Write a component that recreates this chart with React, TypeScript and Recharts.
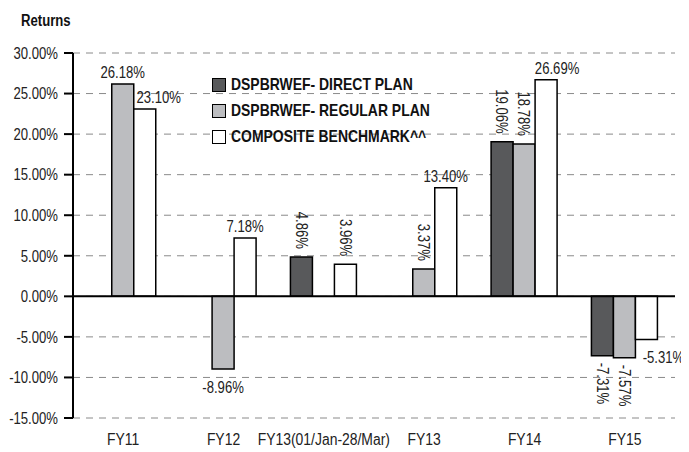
import React from "react";
import { BarChart, Bar, XAxis, YAxis, CartesianGrid, ReferenceLine, Legend, LabelList } from "recharts";

// no narrow font installed, so text is squeezed horizontally to look like Arial Narrow
const FONT = "'Liberation Sans', Arial, sans-serif";
const NARROW = 0.82;

const categories = ["FY11", "FY12", "FY13(01/Jan-28/Mar)", "FY13", "FY14", "FY15"];
const directPlan = [null, null, 4.86, null, 19.06, -7.31];
const regularPlan = [26.18, -8.96, null, 3.37, 18.78, -7.57];
const benchmark = [23.1, 7.18, 3.96, 13.4, 26.69, -5.31];
const yTicks = [-15, -10, -5, 0, 5, 10, 15, 20, 25, 30];

const series = [
  { key: "direct", name: "DSPBRWEF- DIRECT PLAN", fill: "#58595b", values: directPlan },
  { key: "regular", name: "DSPBRWEF- REGULAR PLAN", fill: "#bcbdc0", values: regularPlan },
  { key: "benchmark", name: "COMPOSITE BENCHMARK^^", fill: "#ffffff", values: benchmark },
];

// how each value label is drawn: h = horizontal, v = rotated
const labelMode: Record<string, string[]> = {
  direct: ["h", "h", "v", "h", "v", "v"],
  regular: ["h", "h", "h", "v", "v", "v"],
  benchmark: ["h", "h", "v", "h", "h", "h"],
};
const labelDx: Record<string, number[]> = {
  direct: [0, 0, 0, 0, 0, 0],
  regular: [0, 0, 0, 0, 0, 0],
  benchmark: [14, 0, 0, 0, 11, 17],
};

const data = categories.map((name, i) => ({
  name,
  direct: directPlan[i],
  regular: regularPlan[i],
  benchmark: benchmark[i],
}));

const fmt = (v: number) => v.toFixed(2) + "%";

const txt = { fontFamily: FONT, fontSize: 16, fill: "#222" };

function makeLabel(key: string, values: (number | null)[]) {
  return (props: any) => {
    const { x, y, width, height, value } = props;
    if (value == null) return null;
    const i = values.indexOf(value);
    const top = Math.min(y, y + height);
    const bottom = Math.max(y, y + height);
    const cx = x + width / 2;
    const mode = labelMode[key][i];
    const dx = labelDx[key][i] || 0;
    if (mode === "v") {
      const pos = value >= 0 ? top - 8 : bottom + 7;
      return (
        <g transform={`translate(${cx},${pos}) rotate(90) scale(${NARROW},1)`}>
          <text {...txt} x={0} y={0} textAnchor={value >= 0 ? "end" : "start"} dy="0.36em">
            {fmt(value)}
          </text>
        </g>
      );
    }
    const ty = value >= 0 ? top - 6 : bottom + 24;
    return (
      <g transform={`translate(${cx + dx},${ty}) scale(${NARROW},1)`}>
        <text {...txt} x={0} y={0} textAnchor="middle">
          {fmt(value)}
        </text>
      </g>
    );
  };
}

function YTick(props: any) {
  const { x, y, payload } = props;
  return (
    <g transform={`translate(${x},${y}) scale(${NARROW},1)`}>
      <text {...txt} x={0} y={0} textAnchor="end" dy="0.36em">
        {fmt(payload.value)}
      </text>
    </g>
  );
}

function XTick(props: any) {
  const { x, y, payload } = props;
  return (
    <g transform={`translate(${x},${y}) scale(0.87,1)`}>
      <text {...txt} x={0} y={0} textAnchor="middle" dy="0.71em">
        {payload.value}
      </text>
    </g>
  );
}

function LegendBox() {
  return (
    <div style={{ fontFamily: FONT, fontWeight: 700, fontSize: 17, color: "#111" }}>
      {series.map((s) => (
        <div key={s.key} style={{ display: "flex", alignItems: "center", height: 26, whiteSpace: "nowrap" }}>
          <span style={{ width: 12, height: 12, border: "1.5px solid #000", background: s.fill, marginRight: 5, flex: "none" }} />
          <span style={{ display: "inline-block", transform: `scaleX(${NARROW})`, transformOrigin: "left center" }}>{s.name}</span>
        </div>
      ))}
    </div>
  );
}

export default function App() {
  return (
    <div style={{ position: "relative", width: 681, height: 444 }}>
      <div
        style={{
          position: "absolute",
          left: 13,
          top: 5,
          fontFamily: FONT,
          fontWeight: 700,
          fontSize: 16,
          lineHeight: "16px",
          color: "#111",
          transform: `scaleX(${NARROW})`,
          transformOrigin: "left center",
        }}
      >
        Returns
      </div>
      <BarChart
        width={681}
        height={444}
        data={data}
        margin={{ top: 45, right: 14, bottom: 0, left: 0 }}
        barCategoryGap="16.7%"
        barGap={0}
      >
        <CartesianGrid vertical={false} stroke="#8a8a8a" strokeDasharray="7 6" />
        <XAxis dataKey="name" height={34} interval={0} axisLine={false} tickLine={false} tickMargin={10} tick={<XTick />} />
        <YAxis
          width={65}
          domain={[-15, 30]}
          ticks={yTicks}
          interval={0}
          axisLine={{ stroke: "#000", strokeWidth: 2 }}
          tickLine={{ stroke: "#000", strokeWidth: 2 }}
          tickSize={9}
          tickMargin={6}
          tick={<YTick />}
        />
        <Legend
          layout="vertical"
          align="center"
          verticalAlign="middle"
          content={() => <LegendBox />}
          wrapperStyle={{ top: 64, left: 204, width: "auto", height: "auto" }}
        />
        {series.map((s) => (
          <Bar key={s.key} dataKey={s.key} name={s.name} fill={s.fill} stroke="#000" strokeWidth={1.5} isAnimationActive={false}>
            <LabelList dataKey={s.key} content={makeLabel(s.key, s.values)} />
          </Bar>
        ))}
        <ReferenceLine y={0} stroke="#000" strokeWidth={2} />
      </BarChart>
    </div>
  );
}
